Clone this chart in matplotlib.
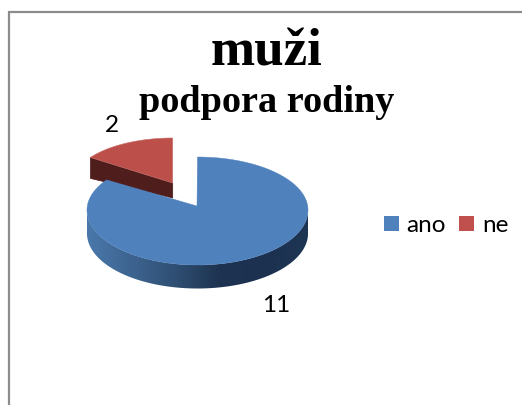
import matplotlib
matplotlib.use("Agg")
import matplotlib.pyplot as plt
import numpy as np
from matplotlib.patches import Polygon, Rectangle
from matplotlib.colors import LinearSegmentedColormap

categories = ["ano", "ne"]
values = [11, 2]
title_main = "muži"
title_sub = "podpora rodiny"

colors = ["#4f81bd", "#c0504d"]
red_side = "#4f1e1c"
side_cmap = LinearSegmentedColormap.from_list(
    "side", ["#4a78ab", "#3d6490", "#2f4f73", "#1d3350", "#1c3150", "#1e3553"])

fig = plt.figure(figsize=(5.22, 4.05), dpi=100)
ax = fig.add_axes([0, 0, 1, 1])
ax.axis("off")

# outer frame, only top and left are visible in the crop
ax.plot([8.5, 8.5, 522], [405, 12, 12], color="#8c8c8c", lw=1.6, solid_joinstyle="miter")

split = values[0] / sum(values) * 2 * np.pi


def rim(theta, cx, cy, rx, ry_top, ry_bot):
    # theta runs clockwise from 12 o'clock
    c = np.cos(theta)
    ry = np.where(c > 0, ry_top, ry_bot)
    return cx + rx * np.sin(theta), cy - ry * c


# red slice, pulled out
th = np.linspace(split, 2 * np.pi, 80)
rx_r, ry_r = rim(th, 172.7, 183, 100, 45, 45)
ax.add_patch(Polygon([[rx_r[0], ry_r[0]], [rx_r[0], ry_r[0] + 21], [172.7, 198], [172.7, 183]],
                     closed=True, fc=red_side, ec=red_side, lw=0.5))
ax.add_patch(Polygon(np.r_[[[172.7, 183]], np.c_[rx_r, ry_r]], closed=True,
                     fc="#bd4f4b", ec="#c9706c", lw=0.4))

# blue slice: side as a clipped gradient, then the top face
cx, cy, rx, ry_t, ry_b, depth = 197.5, 210, 110.5, 53, 55, 23.5
side_th = np.linspace(np.pi / 2, 3 * np.pi / 2, 181)
sx, sy = rim(side_th, cx, cy, rx, ry_t, ry_b)
side = Polygon(np.r_[np.c_[sx, sy], np.c_[sx[::-1], sy[::-1] + depth]], closed=True, fc="none", ec="none")
ax.add_patch(side)
grad = np.linspace(0, 1, 256).reshape(1, -1)
im = ax.imshow(grad, cmap=side_cmap, aspect="auto", extent=[cx - rx, cx + rx, cy + 60 + depth, cy - 5])
im.set_clip_path(side)

th = np.linspace(0, split, 300)
bx, by = rim(th, cx, cy, rx, ry_t, ry_b)
ax.add_patch(Polygon(np.r_[[[197, 206]], np.c_[bx, by]], closed=True, fc=colors[0], ec=colors[0], lw=0.3))

ax.set_xlim(0, 522)
ax.set_ylim(405, 0)

# titles
serif = "Liberation Serif"
ax.text(267, 65, title_main, family=serif, weight="bold", fontsize=38.2, ha="center", va="baseline")
ax.text(266.5, 112.5, title_sub, family=serif, weight="bold", fontsize=27.5, ha="center", va="baseline")

# data labels
ax.text(112, 132, str(values[1]), family="Lato", fontsize=17.5, ha="center", va="baseline")
ax.text(276, 312, str(values[0]), family="Lato", fontsize=17.5, ha="center", va="baseline")

# legend
for x_box, x_txt, name, col in zip([384, 459], [406, 482], categories, colors):
    ax.add_patch(Rectangle((x_box, 216), 15, 15, fc=col, ec="none"))
    ax.text(x_txt, 232, name, family="Lato", fontsize=17.5, ha="left", va="baseline")

fig.savefig("out.png", dpi=100)
